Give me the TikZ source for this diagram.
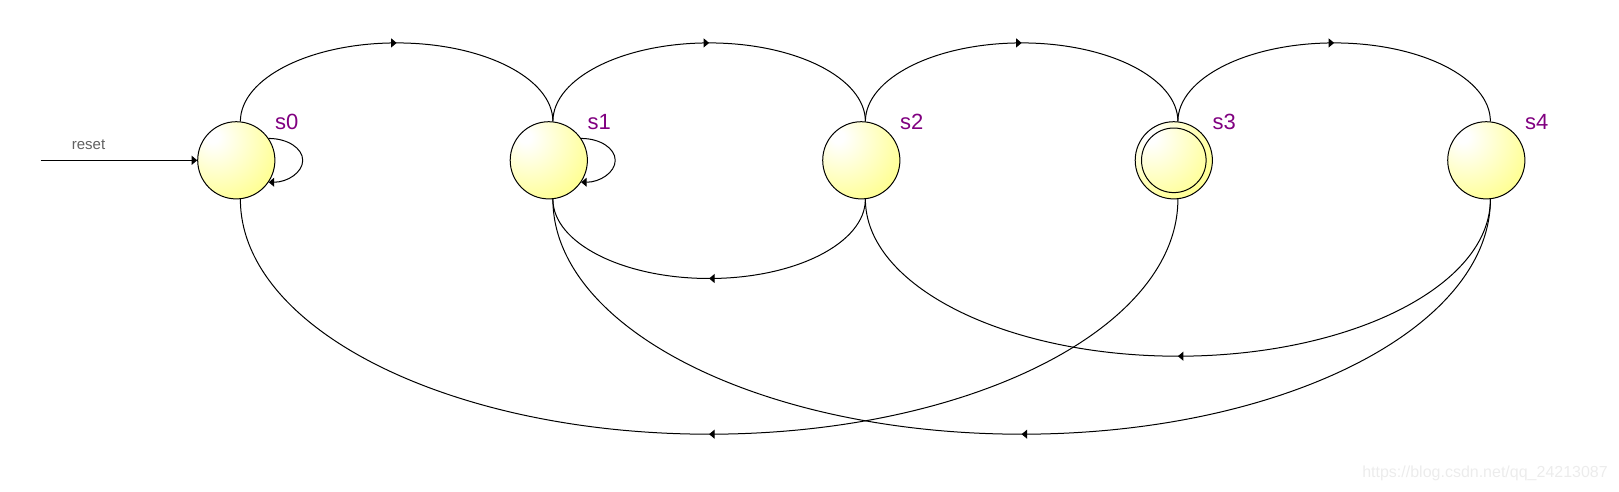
\documentclass[tikz,border=0pt]{standalone}
\usepackage{fontspec}
\setmainfont{Liberation Sans}
\usetikzlibrary{arrows.meta,decorations.markings}
\definecolor{yfill}{RGB}{255,255,148}
\definecolor{lblpurple}{RGB}{128,0,128}
\definecolor{resetgray}{RGB}{96,96,96}
\definecolor{wmgray}{RGB}{236,236,236}
\pgfdeclareradialshading{yball}{\pgfpoint{-16bp}{16bp}}{color(0bp)=(white); color(4bp)=(white); color(38bp)=(yfill); color(100bp)=(yfill)}
\begin{document}
\begin{tikzpicture}[x=1pt,y=1pt,
  state/.style={circle, draw, line width=1pt, minimum size=77.2pt, inner sep=0pt, shading=yball},
  lbl/.style={anchor=base west, text=lblpurple, font=\fontsize{22}{22}\selectfont, inner sep=0pt},
  edge/.style={line width=1pt},
  tipa/.style={-{Triangle[length=5.5pt,width=9pt]}},
  midarrow/.style={postaction={decorate}, decoration={markings, mark=at position 0.5 with {\arrow{Triangle[length=5.5pt,width=9pt]}}}}
]
\useasboundingbox (0,0) rectangle (1619,-491);

\node[state] (s0) at (236.3,-160.3) {};
\node[state] (s1) at (548.8,-160.3) {};
\node[state] (s2) at (861.3,-160.3) {};
\node[state] (s3) at (1173.8,-160.3) {};
\node[state] (s4) at (1486.3,-160.3) {};
\draw[line width=1pt] (s3.center) circle[radius=32.3];

\node[lbl] (l0) at (275,-129) {s0};
\node[lbl] (l1) at (587.5,-129) {s1};
\node[lbl] (l2) at (900,-129) {s2};
\node[lbl] (l3) at (1212.5,-129) {s3};
\node[lbl] (l4) at (1525,-129) {s4};

% reset
\coordinate (rs) at (40.7,-160.3);
\draw[edge,tipa] (rs) -- (s0);
\node[text=resetgray, font=\fontsize{15}{15}\selectfont] (rlbl) at (88.5,-145) {reset};

% self loops
\draw[edge,tipa] (s0.34.6) arc[start angle=90, end angle=-90, x radius=34, y radius=21.9];
\draw[edge,tipa] (s1.34.6) arc[start angle=90, end angle=-90, x radius=34, y radius=21.9];

% top arcs
\draw[edge,midarrow] (s0.84.5) arc[start angle=180, end angle=0, x radius=156.25, y radius=78.5];
\draw[edge,midarrow] (s1.84.5) arc[start angle=180, end angle=0, x radius=156.25, y radius=78.5];
\draw[edge,midarrow] (s2.84.5) arc[start angle=180, end angle=0, x radius=156.25, y radius=78.5];
\draw[edge,midarrow] (s3.84.5) arc[start angle=180, end angle=0, x radius=156.25, y radius=78.5];

% bottom arcs
\draw[edge,midarrow] (s2.-84.5) arc[start angle=0, end angle=-180, x radius=156.25, y radius=79.3];
\draw[edge,midarrow] (s4.-84.5) arc[start angle=0, end angle=-180, x radius=312.5, y radius=157];
\draw[edge,midarrow] (s3.-84.5) arc[start angle=0, end angle=-180, x radius=468.75, y radius=235];
\draw[edge,midarrow] (s4.-84.5) arc[start angle=0, end angle=-180, x radius=468.75, y radius=235];

\node[anchor=base east, text=wmgray, font=\fontsize{16}{16}\selectfont, inner sep=0pt] (wm) at (1608,-477) {https://blog.csdn.net/qq\_24213087};
\end{tikzpicture}
\end{document}
